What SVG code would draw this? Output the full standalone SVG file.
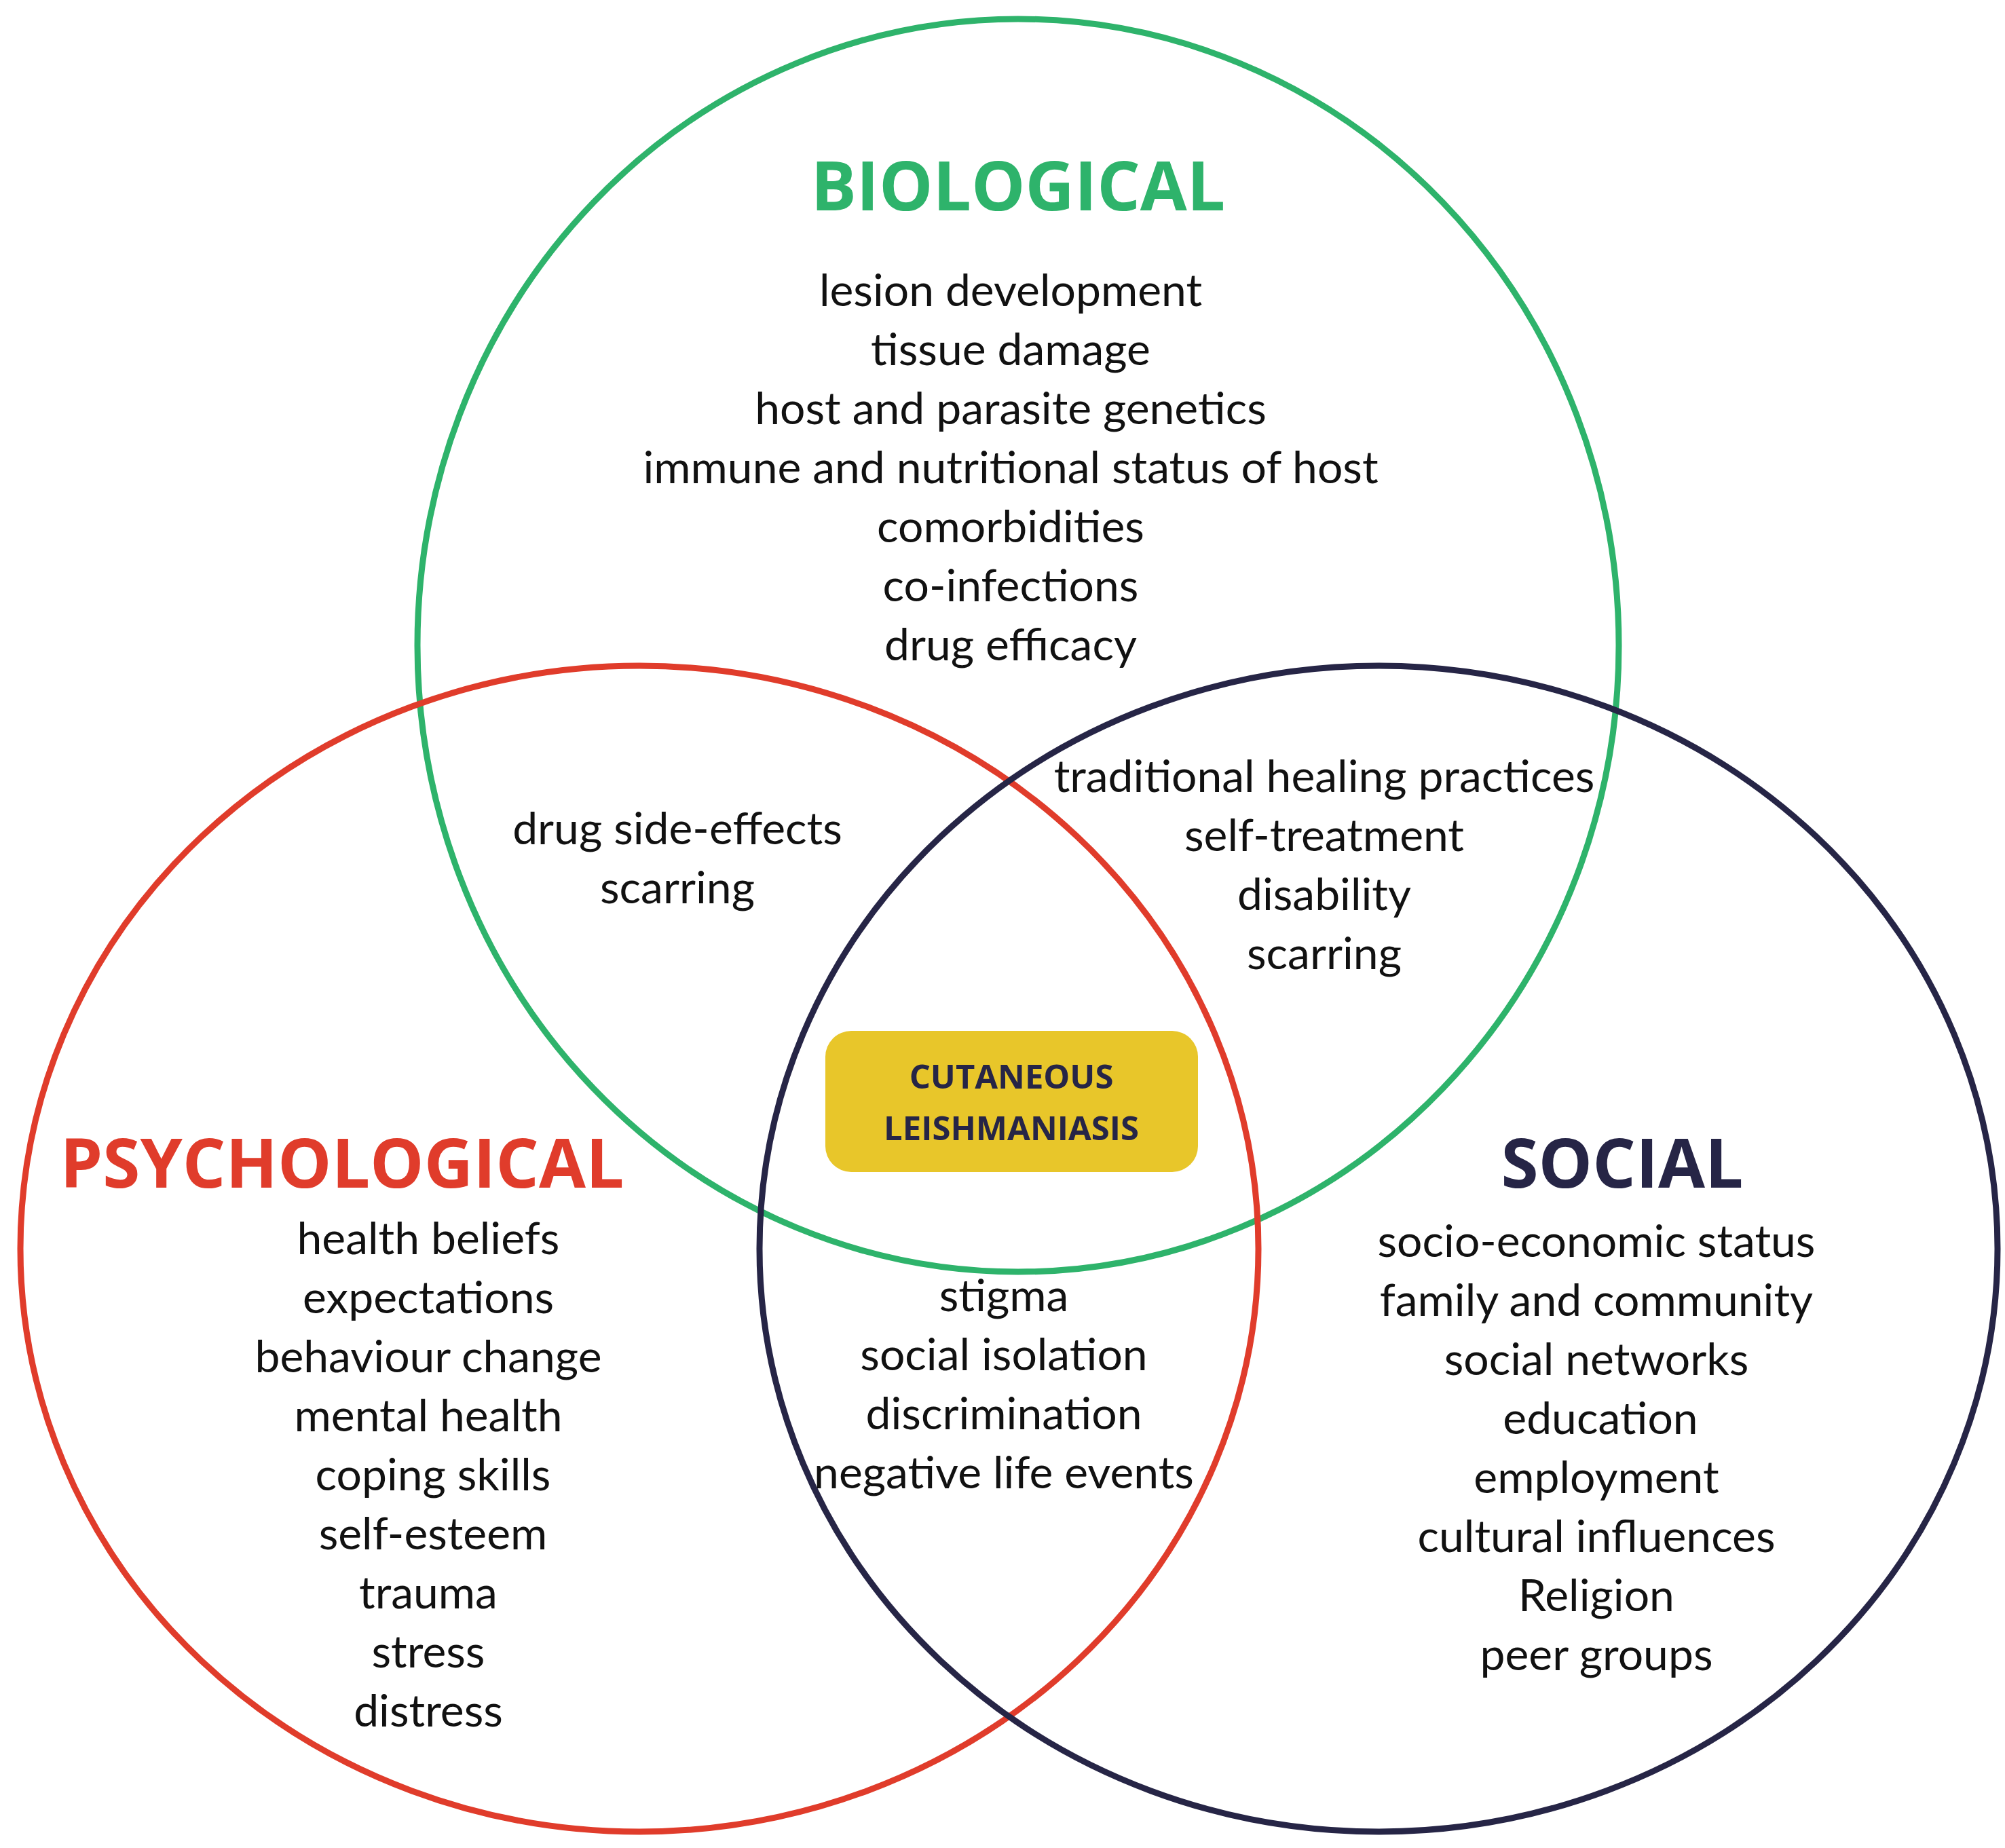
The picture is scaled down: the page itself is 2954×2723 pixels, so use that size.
<svg xmlns="http://www.w3.org/2000/svg" width="2954" height="2723" viewBox="0 0 2954 2723">
<style>
.c{fill:none;stroke-width:9}
.t{font-family:Lato,"Open Sans","Liberation Sans",sans-serif;font-size:66px;fill:#111;text-anchor:middle}
.h{font-family:"Open Sans",Lato,"Liberation Sans",sans-serif;font-size:100px;font-weight:bold;text-anchor:middle}
</style>
<rect width="2954" height="2723" fill="#fff"/>
<g id="connectors"></g>
<g id="biological">
<ellipse class="c" cx="1500" cy="951" rx="885" ry="923" stroke="#2EB36B"/>
<text class="h" x="1500" y="310" fill="#2EB36B">BIOLOGICAL</text>
<text class="t" x="1489" y="451">lesion development</text>
<text class="t" x="1489" y="538">tissue damage</text>
<text class="t" x="1489" y="625">host and parasite genetics</text>
<text class="t" x="1489" y="712">immune and nutritional status of host</text>
<text class="t" x="1489" y="799">comorbidities</text>
<text class="t" x="1489" y="886">co-infections</text>
<text class="t" x="1489" y="973">drug efficacy</text>
</g>
<g id="psychological">
<ellipse class="c" cx="942" cy="1840" rx="912" ry="859" stroke="#E03C2B"/>
<text class="h" x="504" y="1750" fill="#E03C2B">PSYCHOLOGICAL</text>
<text class="t" x="631" y="1848">health beliefs</text>
<text class="t" x="631" y="1935">expectations</text>
<text class="t" x="631" y="2022">behaviour change</text>
<text class="t" x="631" y="2109">mental health</text>
<text class="t" x="638" y="2196">coping skills</text>
<text class="t" x="638" y="2283">self-esteem</text>
<text class="t" x="631" y="2370">trauma</text>
<text class="t" x="631" y="2457">stress</text>
<text class="t" x="631" y="2544">distress</text>
</g>
<g id="social">
<ellipse class="c" cx="2031" cy="1840" rx="912" ry="859" stroke="#262546"/>
<text class="h" x="2390" y="1750" fill="#262546">SOCIAL</text>
<text class="t" x="2352" y="1852">socio-economic status</text>
<text class="t" x="2352" y="1939">family and community</text>
<text class="t" x="2352" y="2026">social networks</text>
<text class="t" x="2358" y="2113">education</text>
<text class="t" x="2352" y="2200">employment</text>
<text class="t" x="2352" y="2287">cultural influences</text>
<text class="t" x="2352" y="2374">Religion</text>
<text class="t" x="2352" y="2461">peer groups</text>
</g>
<g id="bio-psych">
<text class="t" x="998" y="1244">drug side-effects</text>
<text class="t" x="998" y="1331">scarring</text>
</g>
<g id="bio-social">
<text class="t" x="1951" y="1167">traditional healing practices</text>
<text class="t" x="1951" y="1254">self-treatment</text>
<text class="t" x="1951" y="1341">disability</text>
<text class="t" x="1951" y="1428">scarring</text>
</g>
<g id="psych-social">
<text class="t" x="1479" y="1932">stigma</text>
<text class="t" x="1479" y="2019">social isolation</text>
<text class="t" x="1479" y="2106">discrimination</text>
<text class="t" x="1479" y="2193">negative life events</text>
</g>
<g id="center">
<rect x="1216" y="1519" width="549" height="208" rx="38" fill="#E8C62A"/>
<text x="1490" y="1604" font-family="'Open Sans',Lato,'Liberation Sans',sans-serif" font-size="49" font-weight="bold" fill="#262546" text-anchor="middle">CUTANEOUS</text>
<text x="1490" y="1680" font-family="'Open Sans',Lato,'Liberation Sans',sans-serif" font-size="49" font-weight="bold" fill="#262546" text-anchor="middle">LEISHMANIASIS</text>
</g>
</svg>
